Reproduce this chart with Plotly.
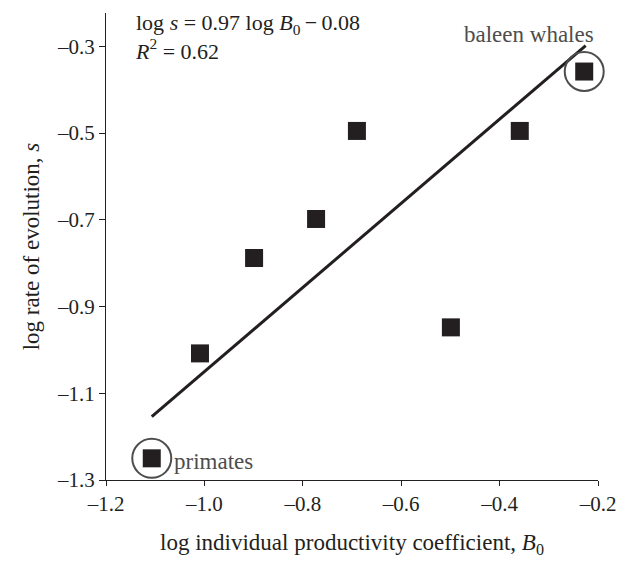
import plotly.graph_objects as go

# data
log_B0 = [-1.107, -1.009, -0.899, -0.773, -0.690, -0.499, -0.359, -0.228]
log_s = [-1.250, -1.008, -0.788, -0.698, -0.495, -0.948, -0.495, -0.358]
fit_x = [-1.107, -0.225]
fit_y = [-1.154, -0.298]
circled_x = [-1.107, -0.228]
circled_y = [-1.250, -0.358]
x_ticks = [-1.2, -1.0, -0.8, -0.6, -0.4, -0.2]
x_ticktext = ["–1.2", "–1.0", "–0.8", "–0.6", "–0.4", "–0.2"]
y_ticks = [-1.3, -1.1, -0.9, -0.7, -0.5, -0.3]
y_ticktext = ["–1.3", "–1.1", "–0.9", "–0.7", "–0.5", "–0.3"]

FONT = "Liberation Serif, Times New Roman, serif"
INK = "#231f20"
GREY = "#4d4d4d"

fig = go.Figure()
fig.add_trace(go.Scatter(x=fit_x, y=fit_y, mode="lines",
                         line=dict(color=INK, width=3), hoverinfo="skip"))
fig.add_trace(go.Scatter(x=log_B0, y=log_s, mode="markers",
                         marker=dict(symbol="square", size=18, color=INK,
                                     line=dict(width=0))))
fig.add_trace(go.Scatter(x=circled_x, y=circled_y, mode="markers",
                         cliponaxis=False,
                         marker=dict(symbol="circle-open", size=39, color=GREY,
                                     line=dict(width=2, color=GREY))))

fig.add_annotation(x=-1.107, y=-1.25, text="primates", showarrow=False,
                   xanchor="left", yanchor="middle", xshift=20, yshift=-3,
                   font=dict(family=FONT, size=23, color=GREY))
fig.add_annotation(x=-0.228, y=-0.358, text="baleen whales", showarrow=False,
                   xanchor="right", yanchor="middle", xshift=12, yshift=37,
                   font=dict(family=FONT, size=23, color=GREY))
fig.add_annotation(xref="paper", yref="paper", x=0.055, y=1.01,
                   text="log <i>s</i> = 0.97 log <i>B</i><sub>0</sub>\u2009−\u20090.08<br><i>R</i><sup>2</sup> = 0.62",
                   showarrow=False, xanchor="left", yanchor="top", align="left",
                   font=dict(family=FONT, size=22, color=INK))

# page body has an 8px default margin; size the figure so it fits the 628x562 window
fig.update_layout(
    width=620, height=554,
    margin=dict(l=98, r=30, t=5, b=82),
    plot_bgcolor="white", paper_bgcolor="white",
    showlegend=False,
    font=dict(family=FONT, size=21, color=INK),
)
fig.update_xaxes(range=[-1.2, -0.2], tickvals=x_ticks, ticktext=x_ticktext,
                 automargin=False,
                 showgrid=False, zeroline=False, showline=True, linecolor=INK,
                 linewidth=1.2, ticks="outside", ticklen=5, tickcolor=INK,
                 tickfont=dict(family=FONT, size=21, color=INK),
                 title=dict(text="log individual productivity coefficient, <i>B</i><sub>0</sub>",
                            standoff=18, font=dict(family=FONT, size=23, color=INK)))
fig.update_yaxes(range=[-1.3, -0.223], tickvals=y_ticks, ticktext=y_ticktext,
                 automargin=False,
                 showgrid=False, zeroline=False, showline=True, linecolor=INK,
                 linewidth=1.2, ticks="outside", ticklen=6, tickcolor=INK,
                 tickfont=dict(family=FONT, size=21, color=INK),
                 title=dict(text="log rate of evolution, <i>s</i>",
                            standoff=10, font=dict(family=FONT, size=23, color=INK)))

fig.write_html("out.html")
